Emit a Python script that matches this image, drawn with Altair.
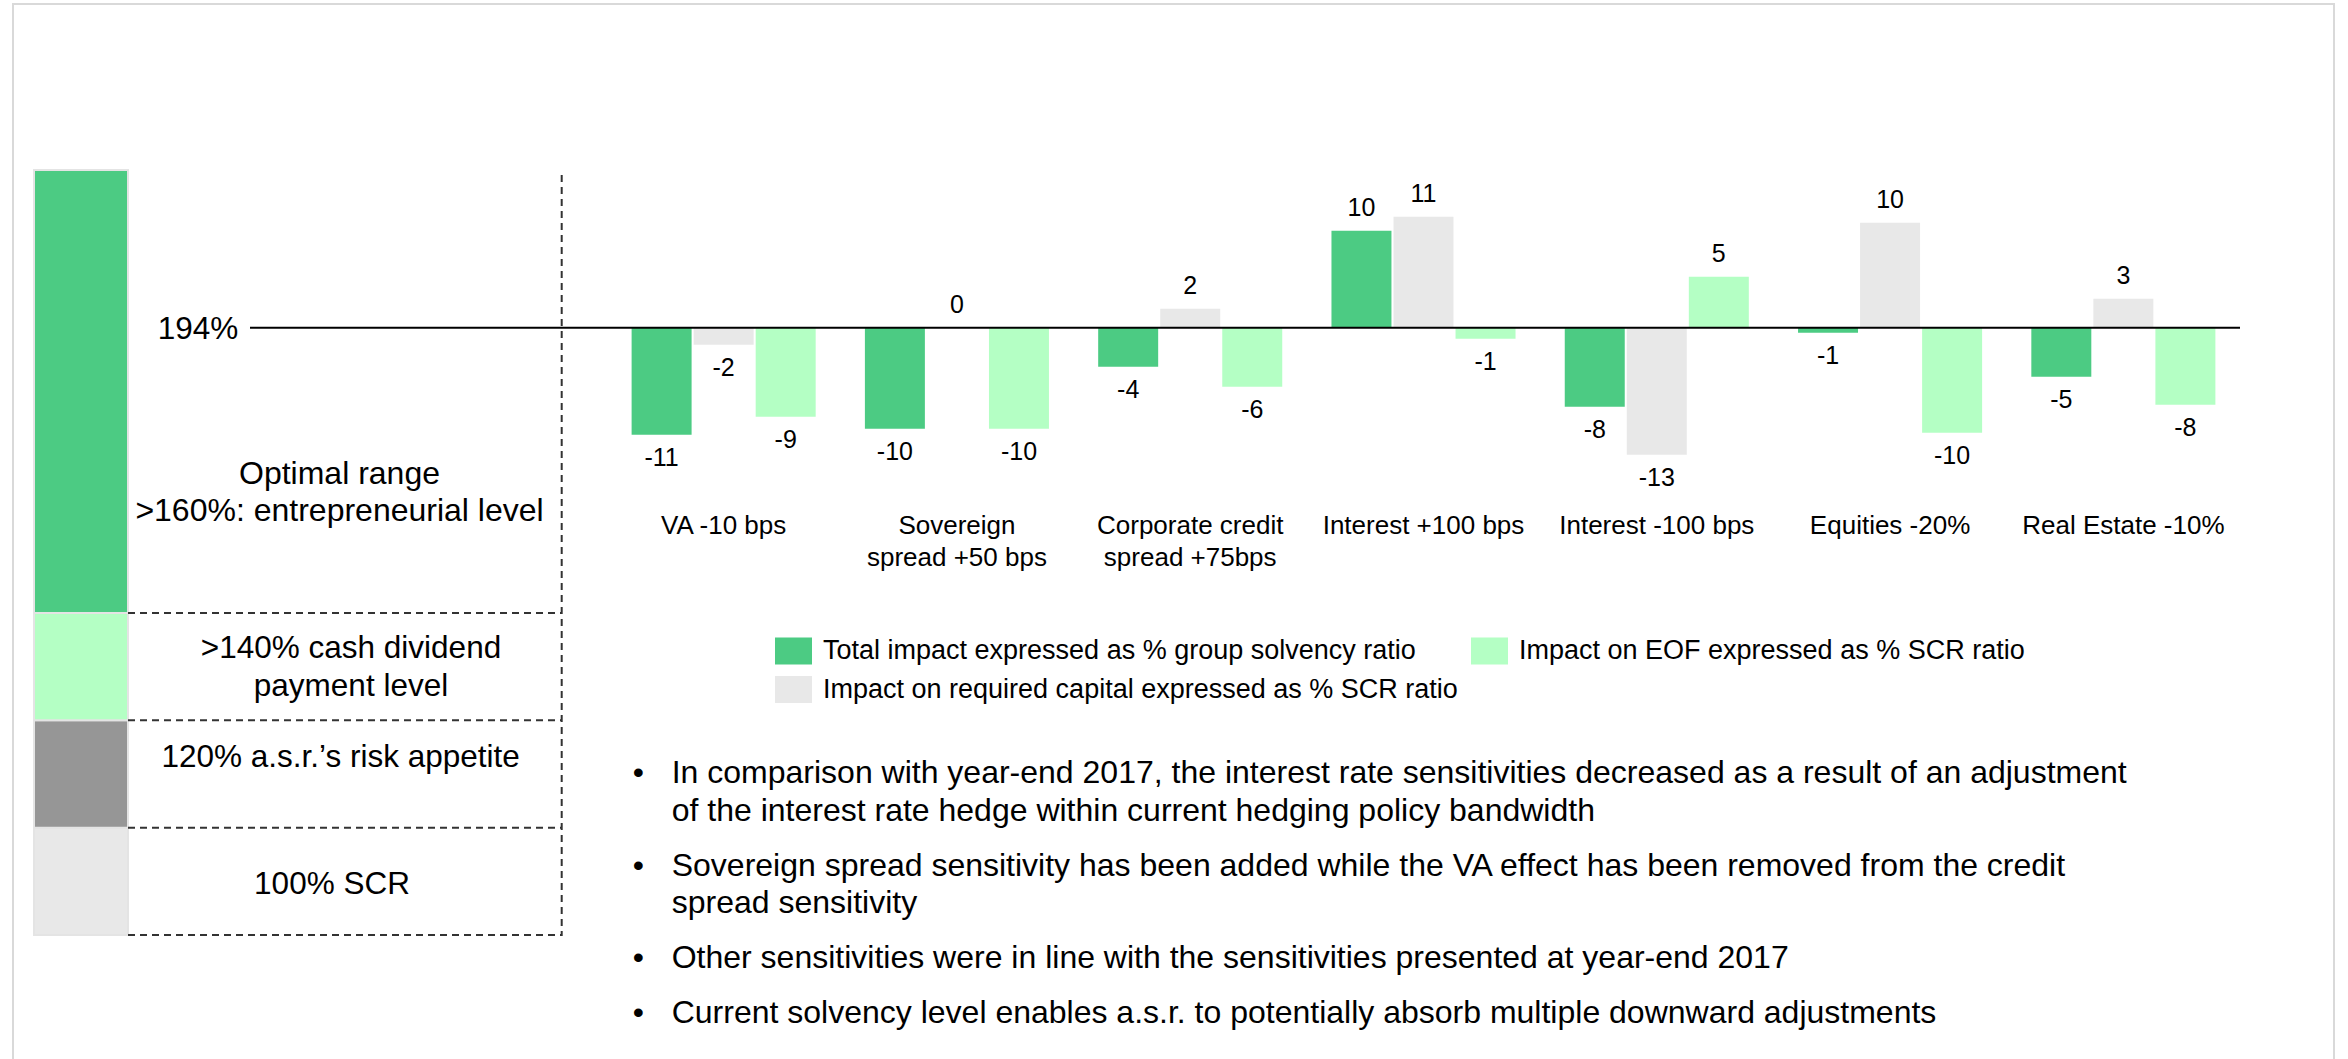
import altair as alt
import pandas as pd

FONT = "Liberation Sans"

# ---------------- data ----------------
categories = [
    "VA -10 bps",
    "Sovereign\nspread +50 bps",
    "Corporate credit\nspread +75bps",
    "Interest +100 bps",
    "Interest -100 bps",
    "Equities -20%",
    "Real Estate -10%",
]
series_total = "Total impact expressed as % group solvency ratio"
series_required = "Impact on required capital expressed as % SCR ratio"
series_eof = "Impact on EOF expressed as % SCR ratio"

total_values = [-10.7, -10.1, -3.9, 9.7, -7.9, -0.5, -4.9]
required_values = [-1.7, 0.0, 1.9, 11.1, -12.7, 10.5, 2.9]
eof_values = [-8.9, -10.1, -5.9, -1.1, 5.1, -10.5, -7.7]

total_labels = [-11, -10, -4, 10, -8, -1, -5]
required_labels = [-2, 0, 2, 11, -13, 10, 3]
eof_labels = [-9, -10, -6, -1, 5, -10, -8]

bar_order = [series_total, series_required, series_eof]
bar_colors = ["#4ccb83", "#e8e8e8", "#b4ffc4"]

level_lower = [100, 120, 140, 160]
level_upper = [120, 140, 160, 250]
level_colors = ["#e8e8e8", "#969696", "#b4ffc4", "#4ccb83"]
current_ratio = "194%"

level_texts = [
    "Optimal range\n>160%: entrepreneurial level",
    ">140% cash dividend\npayment level",
    "120% a.s.r.\u2019s risk appetite",
    "100% SCR",
]

bullets = [
    "In comparison with year-end 2017, the interest rate sensitivities decreased as a result of an adjustment\nof the interest rate hedge within current hedging policy bandwidth",
    "Sovereign spread sensitivity has been added while the VA effect has been removed from the credit\nspread sensitivity",
    "Other sensitivities were in line with the sensitivities presented at year-end 2017",
    "Current solvency level enables a.s.r. to potentially absorb multiple downward adjustments",
]

# ---------------- tables ----------------
rows = []
for s, vals, labs in [
    (series_total, total_values, total_labels),
    (series_required, required_values, required_labels),
    (series_eof, eof_values, eof_labels),
]:
    for c, v, l in zip(categories, vals, labs):
        rows.append({"category": c, "series": s, "value": v, "label": str(l)})
bars_df = pd.DataFrame(rows)

levels_df = pd.DataFrame({"lower": level_lower, "upper": level_upper, "fill": level_colors})
zero_df = pd.DataFrame({"zero": [0]})
cat_df = pd.DataFrame({"category": categories})
one_df = pd.DataFrame({"a": [0]})

# ---------------- scales ----------------
xscale = alt.Scale(domain=categories, range=[607, 2240], paddingInner=0.211, paddingOuter=0.1055)
xoff_scale = alt.Scale(domain=bar_order, paddingInner=0.033, paddingOuter=0)
yscale = alt.Scale(domain=[0, 10], range=[327.7, 227.7], nice=False, zero=False)
level_scale = alt.Scale(domain=[100, 160, 250], range=[935, 613, 170], nice=False, zero=False)

# ---------------- layers ----------------
frame = alt.Chart(one_df).mark_rect(fill=None, stroke="#d9d9d9", strokeWidth=2).encode(
    x=alt.value(13), x2=alt.value(2334), y=alt.value(4), y2=alt.value(1070)
)

column = alt.Chart(levels_df).mark_rect(stroke="#e4e4e4", strokeWidth=2).encode(
    x=alt.value(34), x2=alt.value(128),
    y=alt.Y("lower:Q", scale=level_scale, axis=None),
    y2="upper:Q",
    fill=alt.Fill("fill:N", scale=None),
)

hdash = alt.Chart(levels_df).mark_rule(color="#333333", strokeWidth=2, strokeDash=[7, 5]).encode(
    x=alt.value(128), x2=alt.value(561.7),
    y=alt.Y("lower:Q", scale=level_scale, axis=None),
)

vdash = alt.Chart(one_df).mark_rule(color="#333333", strokeWidth=2, strokeDash=[7, 5]).encode(
    x=alt.value(561.7), y=alt.value(175), y2=alt.value(936)
)

bars = alt.Chart(bars_df).mark_bar().encode(
    x=alt.X("category:N", scale=xscale, axis=None, sort=categories),
    xOffset=alt.XOffset("series:N", scale=xoff_scale, sort=bar_order),
    y=alt.Y("value:Q", scale=yscale, axis=None),
    y2=alt.datum(0),
    color=alt.Color(
        "series:N",
        scale=alt.Scale(domain=bar_order, range=bar_colors),
        legend=alt.Legend(
            title=None, orient="none", legendX=775, legendY=632, columns=2,
            columnPadding=13, rowPadding=6, padding=0,
            symbolType="M-1,-0.73L1,-0.73L1,0.73L-1,0.73Z", symbolSize=1369,
            symbolStrokeWidth=0, symbolOpacity=1,
            labelFont=FONT, labelFontSize=27, labelColor="#000000",
            labelLimit=1500, labelOffset=11,
        ),
    ),
)

label_enc = dict(
    x=alt.X("category:N", scale=xscale, axis=None, sort=categories),
    xOffset=alt.XOffset("series:N", scale=xoff_scale, sort=bar_order),
    y=alt.Y("value:Q", scale=yscale, axis=None),
    text="label:N",
)
pos_labels = alt.Chart(bars_df).transform_filter("datum.value >= 0").mark_text(
    font=FONT, fontSize=25, color="#000000", baseline="middle", dy=-23
).encode(**label_enc)
neg_labels = alt.Chart(bars_df).transform_filter("datum.value < 0").mark_text(
    font=FONT, fontSize=25, color="#000000", baseline="middle", dy=23
).encode(**label_enc)

baseline = alt.Chart(zero_df).mark_rule(color="#000000", strokeWidth=2).encode(
    y=alt.Y("zero:Q", scale=yscale, axis=None), x=alt.value(250), x2=alt.value(2240)
)

cat_labels = alt.Chart(cat_df).mark_text(
    font=FONT, fontSize=26, color="#000000", baseline="alphabetic", align="center",
    lineBreak="\n", lineHeight=31.7,
).encode(
    x=alt.X("category:N", scale=xscale, axis=None, sort=categories),
    y=alt.value(534.3),
    text="category:N",
)

def free_text(txt, x, y, size, align="center", lh=None):
    kw = dict(font=FONT, fontSize=size, color="#000000", baseline="alphabetic", align=align, lineBreak="\n")
    if lh is not None:
        kw["lineHeight"] = lh
    return alt.Chart(pd.DataFrame({"t": [txt]})).mark_text(**kw).encode(
        x=alt.value(x), y=alt.value(y), text="t:N"
    )

left_texts = [
    free_text(current_ratio, 198, 339, 31.5),
    free_text(level_texts[0], 339.5, 484, 32, lh=37),
    free_text(level_texts[1], 351, 657.7, 31.5, lh=38.5),
    free_text(level_texts[2], 340.6, 767.3, 31.5),
    free_text(level_texts[3], 332, 894, 31.5),
]

bullet_layers = []
y = 783
line_h = 37.5
para_gap = 17.5
for b in bullets:
    n = b.count("\n") + 1
    bullet_layers.append(free_text("\u2022", 638.3, y, 32))
    bullet_layers.append(free_text(b, 671.7, y, 32, align="left", lh=line_h))
    y += n * line_h + para_gap

chart = alt.layer(
    frame, column, hdash, vdash, bars, pos_labels, neg_labels, baseline, cat_labels,
    *left_texts, *bullet_layers,
).resolve_scale(
    y="independent", fill="independent"
).properties(
    width=2348, height=1059, padding=0, autosize="none", background="white"
).configure_view(stroke=None)

chart.save("out.html", embed_options={"renderer": "svg", "actions": False})
